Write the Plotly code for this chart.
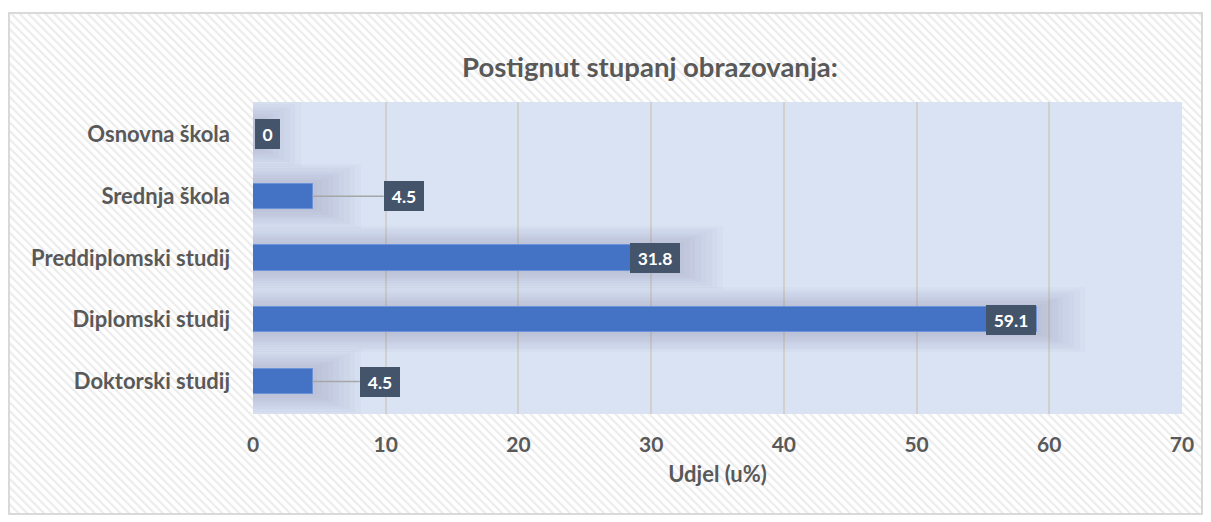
import base64
import plotly.graph_objects as go

categories = ["Osnovna škola", "Srednja škola", "Preddiplomski studij", "Diplomski studij", "Doktorski studij"]
values = [0, 4.5, 31.8, 59.1, 4.5]
label_texts = ["0", "4.5", "31.8", "59.1", "4.5"]
x_ticks = [0, 10, 20, 30, 40, 50, 60, 70]

title_text = "Postignut stupanj obrazovanja:"
x_title = "Udjel (u%)"

W, H = 1211, 522
OFF = 8  # page body margin
L, T = 245, 94
PW, PH = 929, 312
R, B = W - L - PW, H - T - PH
FONT = "Lato"
TXT = "#595959"

fig = go.Figure()

# soft shadow behind bars (layered translucent bars)
n_layers = 9
for i in range(n_layers):
    f = i / (n_layers - 1)
    w = 1.05 - 0.6 * f
    pad = 3.6 - 3.3 * f
    fig.add_trace(go.Bar(
        y=categories, x=[v + pad for v in values], orientation="h", width=w,
        marker=dict(color="rgba(50,60,95,0.021)", line=dict(width=0)),
        hoverinfo="skip", showlegend=False))

fig.add_trace(go.Bar(
    y=categories, x=values, orientation="h", width=0.41,
    marker=dict(color="#4472c4", line=dict(color="#6b93da", width=1)),
    showlegend=False))

# data labels (pixel offset of box centre from bar end, box width)
label_cfg = [
    dict(dx=14.5, arrow=False, w=25),
    dict(dx=91, arrow=True, w=40),
    dict(dx=-20.5, arrow=False, w=50),
    dict(dx=-26.5, arrow=False, w=50),
    dict(dx=67, arrow=True, w=40),
]
for cat, v, t, cfg in zip(categories, values, label_texts, label_cfg):
    common = dict(x=v, y=cat, xref="x", yref="y", text=t,
                  font=dict(family=FONT, size=17.5, color="white", weight="bold"),
                  bgcolor="#44546a", borderpad=0, borderwidth=0,
                  width=cfg["w"], height=30, align="center", valign="middle")
    if cfg["arrow"]:
        fig.add_annotation(**common, showarrow=True, ax=cfg["dx"], ay=0,
                           arrowhead=0, arrowwidth=1.5, arrowcolor="#a6a6a6", standoff=0)
    else:
        fig.add_annotation(**common, showarrow=False, xshift=cfg["dx"])

# hatched chart background with border
svg = '''<svg xmlns="http://www.w3.org/2000/svg" width="1195" height="503">
<defs><pattern id="p" patternUnits="userSpaceOnUse" width="6" height="6" patternTransform="rotate(-45)">
<rect width="6" height="6" fill="#ffffff"/><rect width="2.2" height="6" fill="#ececec"/></pattern></defs>
<rect x="0" y="0" width="1195" height="503" fill="url(#p)"/>
<rect x="1" y="1" width="1193" height="501" fill="none" stroke="#d9d9d9" stroke-width="2"/>
</svg>'''
src = "data:image/svg+xml;base64," + base64.b64encode(svg.encode()).decode()
x0, x1, y0, y1 = 8 - OFF, 1203 - OFF, 12 - OFF, 515 - OFF
fig.add_layout_image(dict(
    source=src, xref="paper", yref="paper",
    x=(x0 - L) / PW, y=(H - B - y0) / PH,
    sizex=(x1 - x0) / PW, sizey=(y1 - y0) / PH,
    xanchor="left", yanchor="top", sizing="stretch", layer="below"))

# plot area fill (above the hatch image)
fig.add_shape(type="rect", xref="paper", yref="paper", x0=0, x1=1, y0=0, y1=1,
              fillcolor="#dae3f3", line=dict(width=0), layer="below")

fig.update_layout(
    width=W, height=H,
    margin=dict(l=L, r=R, t=T, b=B, autoexpand=False),
    paper_bgcolor="white", plot_bgcolor="#dae3f3",
    barmode="overlay", bargap=0,
    title=dict(text=title_text, x=(650 - OFF) / W, xanchor="center",
               y=1 - (67 - OFF) / H, yanchor="middle",
               font=dict(family=FONT, size=27.5, color=TXT, weight="bold")),
    xaxis=dict(range=[0, 70], tickvals=x_ticks, ticktext=[str(v) for v in x_ticks],
               showgrid=True, gridcolor="#d2cfcc", gridwidth=1.5, zeroline=False,
               showline=False, ticks="", ticklabelstandoff=16,
               tickfont=dict(family=FONT, size=21, color=TXT, weight="bold"),
               title=dict(text=x_title, standoff=11,
                          font=dict(family=FONT, size=22, color=TXT, weight="bold"))),
    yaxis=dict(categoryorder="array", categoryarray=categories, autorange="reversed",
               showgrid=False, zeroline=False, ticks="", ticklabelstandoff=22,
               tickfont=dict(family=FONT, size=22, color=TXT, weight="bold")),
)

fig.write_html("out.html")
